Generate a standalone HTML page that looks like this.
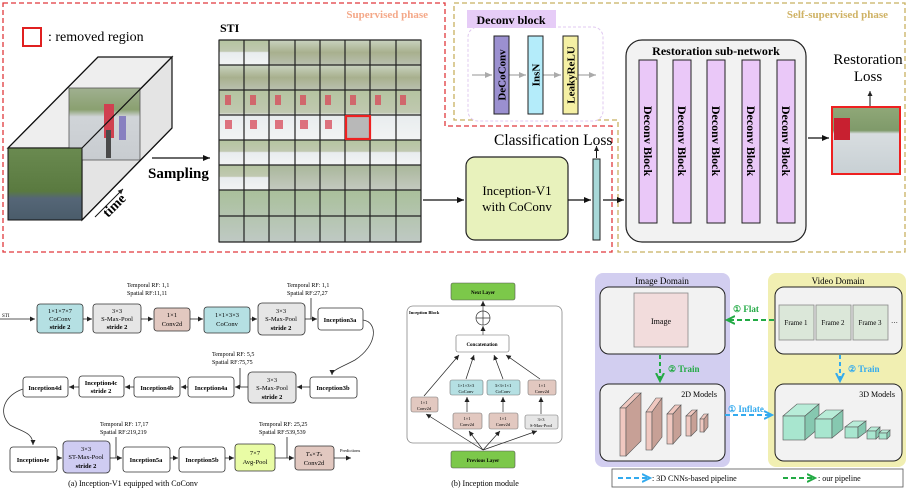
<!DOCTYPE html>
<html><head><meta charset="utf-8"><style>
html,body{margin:0;padding:0;background:#fff;width:909px;height:490px;overflow:hidden}
svg{display:block;font-family:"Liberation Serif",serif}
</style></head><body>
<svg width="909" height="490" viewBox="0 0 909 490" xmlns="http://www.w3.org/2000/svg">
<defs>
<marker id="ah" markerWidth="8" markerHeight="8" refX="7" refY="4" orient="auto" markerUnits="userSpaceOnUse"><path d="M0,1 L7,4 L0,7 z" fill="#111"/></marker>
<marker id="ahs" markerWidth="6" markerHeight="6" refX="5" refY="3" orient="auto" markerUnits="userSpaceOnUse"><path d="M0,0.5 L5,3 L0,5.5 z" fill="#222"/></marker>
<marker id="ahg" markerWidth="8" markerHeight="8" refX="7" refY="4" orient="auto" markerUnits="userSpaceOnUse"><path d="M0,1 L7,4 L0,7 z" fill="#aaa"/></marker>
<marker id="agr" markerWidth="10" markerHeight="10" refX="8" refY="5" orient="auto" markerUnits="userSpaceOnUse"><path d="M0,1 L8,5 L0,9" fill="none" stroke="#22aa44" stroke-width="2"/></marker>
<marker id="abl" markerWidth="10" markerHeight="10" refX="8" refY="5" orient="auto" markerUnits="userSpaceOnUse"><path d="M0,1 L8,5 L0,9" fill="none" stroke="#33aaee" stroke-width="2"/></marker>
<linearGradient id="gA" x1="0" y1="0" x2="0" y2="1"><stop offset="0" stop-color="#c9d3c0"/><stop offset="0.5" stop-color="#a8b08e"/><stop offset="1" stop-color="#b9c0b0"/></linearGradient>
<linearGradient id="gB" x1="0" y1="0" x2="0" y2="1"><stop offset="0" stop-color="#b4c4a0"/><stop offset="0.45" stop-color="#c0c8b0"/><stop offset="0.5" stop-color="#e8ecee"/><stop offset="1" stop-color="#f2f4f4"/></linearGradient>
<linearGradient id="gC" x1="0" y1="0" x2="0" y2="1"><stop offset="0" stop-color="#a9b79a"/><stop offset="1" stop-color="#c4c9c0"/></linearGradient>
<linearGradient id="gD" x1="0" y1="0" x2="0" y2="1"><stop offset="0" stop-color="#a9c09a"/><stop offset="1" stop-color="#bfc9c4"/></linearGradient>
<linearGradient id="gE" x1="0" y1="0" x2="0" y2="1"><stop offset="0" stop-color="#6a8a50"/><stop offset="0.6" stop-color="#5a7a40"/><stop offset="0.7" stop-color="#556677"/><stop offset="1" stop-color="#4a5c6a"/></linearGradient>
<linearGradient id="gF" x1="0" y1="0" x2="0" y2="1"><stop offset="0" stop-color="#a0b090"/><stop offset="0.3" stop-color="#8aa070"/><stop offset="0.4" stop-color="#d0d4d8"/><stop offset="1" stop-color="#c8ccd0"/></linearGradient>
<linearGradient id="gR" x1="0" y1="0" x2="0" y2="1"><stop offset="0" stop-color="#90a878"/><stop offset="0.35" stop-color="#7f9a6a"/><stop offset="0.4" stop-color="#d8dde0"/><stop offset="1" stop-color="#c8d0d4"/></linearGradient>
</defs>

<path d="M3,3 H445 V126 H612 V252 H3 Z" fill="none" stroke="#e0383c" stroke-width="1.3" stroke-dasharray="5,3"/>
<path d="M454,3 H905 V252 H618 V120 H454 Z" fill="none" stroke="#c8b060" stroke-width="1.3" stroke-dasharray="5,3"/>
<text x="428" y="18" font-size="11" font-weight="bold" fill="#f4a888" text-anchor="end">Supervised phase</text>
<text x="888" y="18" font-size="11" font-weight="bold" fill="#cfb264" text-anchor="end">Self-supervised phase</text>

<rect x="23" y="28" width="18" height="18" fill="none" stroke="#e02020" stroke-width="2"/>
<text x="48" y="41" font-size="14">: removed region</text>

<!-- cube -->
<polygon points="8,148 98,57 172,57 82,148" fill="#eeeeee" stroke="#111" stroke-width="1.2"/>
<polygon points="82,148 172,57 172,128 82,220" fill="#e4e4e4" stroke="#111" stroke-width="1.2"/>
<rect x="69" y="88" width="71" height="72" fill="url(#gF)" stroke="#555" stroke-width="0.8"/>
<rect x="104" y="104" width="10" height="34" fill="#d04050"/>
<rect x="119" y="116" width="7" height="24" fill="#8880c0"/>
<rect x="106" y="130" width="5" height="28" fill="#4a4a4a"/>
<line x1="172" y1="57" x2="82" y2="148" stroke="#111" stroke-width="1.2"/>
<line x1="172" y1="128" x2="82" y2="220" stroke="#111" stroke-width="1.2"/>
<line x1="8" y1="148" x2="98" y2="57" stroke="#111" stroke-width="1.2"/>
<rect x="8" y="148" width="74" height="72" fill="url(#gE)" stroke="#111" stroke-width="1"/>
<line x1="95" y1="217" x2="123" y2="189" stroke="#111" stroke-width="1" marker-end="url(#ahs)"/>
<text x="108" y="218" font-size="14" font-weight="bold" transform="rotate(-45 108 218)">time</text>
<line x1="152" y1="158" x2="210" y2="158" stroke="#111" stroke-width="1.2" marker-end="url(#ah)"/>
<text x="148" y="178" font-size="15" font-weight="bold">Sampling</text>

<text x="220" y="32" font-size="12" font-weight="bold">STI</text>
<rect x="219" y="40" width="202" height="202" fill="#c8ccc4" stroke="#222"/>
<g>
<rect x="219" y="40" width="50" height="25" fill="url(#gB)"/>
<rect x="269" y="40" width="152" height="25" fill="url(#gA)"/>
<rect x="219" y="65" width="202" height="25" fill="url(#gA)"/>
<rect x="219" y="90" width="202" height="50" fill="url(#gB)"/>
<rect x="219" y="140" width="202" height="25" fill="url(#gB)"/>
<rect x="219" y="165" width="50" height="25" fill="url(#gB)"/>
<rect x="269" y="165" width="152" height="25" fill="url(#gC)"/>
<rect x="219" y="190" width="202" height="52" fill="url(#gD)"/>
</g>
<g fill="#d84858" opacity="0.75">
<rect x="225" y="95" width="6" height="10"/><rect x="250" y="95" width="6" height="10"/><rect x="275" y="95" width="6" height="10"/><rect x="300" y="95" width="6" height="10"/><rect x="325" y="95" width="6" height="10"/><rect x="350" y="95" width="6" height="10"/><rect x="375" y="95" width="6" height="10"/><rect x="400" y="95" width="6" height="10"/>
<rect x="225" y="120" width="7" height="9"/><rect x="250" y="120" width="7" height="9"/><rect x="275" y="120" width="8" height="9"/><rect x="300" y="120" width="8" height="9"/><rect x="325" y="120" width="7" height="9"/>
</g>
<g stroke="#222" stroke-width="1.2" fill="none">
<path d="M219,40 V242 M244,40 V242 M269,40 V242 M295,40 V242 M320,40 V242 M345,40 V242 M370,40 V242 M396,40 V242 M421,40 V242"/>
<path d="M219,40 H421 M219,65 H421 M219,90 H421 M219,115 H421 M219,140 H421 M219,165 H421 M219,190 H421 M219,216 H421 M219,242 H421"/>
</g>
<rect x="346" y="116" width="24" height="23" fill="#b8b8b8" stroke="#ee2020" stroke-width="2.2"/>

<line x1="423" y1="200" x2="464" y2="200" stroke="#111" stroke-width="1.2" marker-end="url(#ah)"/>
<rect x="466" y="157" width="102" height="83" rx="9" fill="#e8f2bc" stroke="#222" stroke-width="1.2"/>
<text x="517" y="195" font-size="13" text-anchor="middle">Inception-V1</text>
<text x="517" y="211" font-size="13" text-anchor="middle">with CoConv</text>
<line x1="568" y1="200" x2="591" y2="200" stroke="#111" stroke-width="1.2" marker-end="url(#ah)"/>
<rect x="593" y="159" width="7" height="81" fill="#a8d8d8" stroke="#222" stroke-width="1"/>
<line x1="596.5" y1="158" x2="596.5" y2="146" stroke="#111" stroke-width="1" marker-end="url(#ahs)"/>
<text x="494" y="145" font-size="15.5">Classification Loss</text>
<line x1="603" y1="200" x2="624" y2="200" stroke="#111" stroke-width="1.2" marker-end="url(#ah)"/>

<rect x="468" y="27" width="135" height="94" rx="10" fill="#fff" stroke="#e0c8f0" stroke-width="1" stroke-dasharray="3,2"/>
<rect x="467" y="10" width="89" height="18" fill="#e6ccf7"/>
<text x="511" y="24" font-size="12" font-weight="bold" text-anchor="middle">Deconv block</text>
<line x1="472" y1="75" x2="492" y2="75" stroke="#aaa" stroke-width="1.2" marker-end="url(#ahg)"/>
<line x1="509" y1="75" x2="526" y2="75" stroke="#aaa" stroke-width="1.2" marker-end="url(#ahg)"/>
<line x1="543" y1="75" x2="561" y2="75" stroke="#aaa" stroke-width="1.2" marker-end="url(#ahg)"/>
<line x1="578" y1="75" x2="596" y2="75" stroke="#aaa" stroke-width="1.2" marker-end="url(#ahg)"/>
<rect x="494" y="36" width="15" height="78" fill="#9b90d0" stroke="#222"/>
<rect x="528" y="36" width="15" height="78" fill="#b4ecfa" stroke="#222"/>
<rect x="563" y="36" width="15" height="78" fill="#f5f0a4" stroke="#222"/>
<g font-size="11" font-weight="bold" text-anchor="middle">
<text transform="translate(505.5 75) rotate(-90)">DeCoConv</text>
<text transform="translate(539.5 75) rotate(-90)">InsN</text>
<text transform="translate(574.5 75) rotate(-90)">LeakyReLU</text>
</g>

<rect x="626" y="40" width="180" height="202" rx="16" fill="#f2f2f2" stroke="#222" stroke-width="1.2"/>
<text x="716" y="55" font-size="12" font-weight="bold" text-anchor="middle">Restoration sub-network</text>
<g fill="#eac8f8" stroke="#222" stroke-width="1">
<rect x="639" y="60" width="18" height="163"/><rect x="673" y="60" width="18" height="163"/><rect x="707" y="60" width="18" height="163"/><rect x="742" y="60" width="18" height="163"/><rect x="777" y="60" width="18" height="163"/>
</g>
<g font-size="12" font-weight="bold" text-anchor="middle">
<text transform="translate(644 141) rotate(90)">Deconv Block</text>
<text transform="translate(678 141) rotate(90)">Deconv Block</text>
<text transform="translate(712 141) rotate(90)">Deconv Block</text>
<text transform="translate(747 141) rotate(90)">Deconv Block</text>
<text transform="translate(782 141) rotate(90)">Deconv Block</text>
</g>
<line x1="808" y1="138" x2="829" y2="138" stroke="#111" stroke-width="1.2" marker-end="url(#ah)"/>
<rect x="832" y="107" width="68" height="67" fill="url(#gR)" stroke="#ee2020" stroke-width="2"/>
<rect x="834" y="118" width="16" height="22" fill="#c82030"/>
<line x1="870" y1="106" x2="870" y2="91" stroke="#111" stroke-width="1" marker-end="url(#ahs)"/>
<text x="868" y="64" font-size="15" text-anchor="middle">Restoration</text>
<text x="868" y="81" font-size="15" text-anchor="middle">Loss</text>

<!-- (a) -->
<g font-size="6.5" text-anchor="middle">
<line x1="0" y1="319" x2="35" y2="319" stroke="#222" stroke-width="0.8" marker-end="url(#ahs)"/>
<text x="2" y="317" text-anchor="start" font-size="5">STI</text>
<rect x="37" y="304" width="46" height="29" rx="3" fill="#b5e0e3" stroke="#333" stroke-width="0.8"/>
<text x="60" y="313">1×1×7×7</text><text x="60" y="321">CoConv</text><text x="60" y="329" font-weight="bold">stride 2</text>
<line x1="83" y1="319" x2="92" y2="319" stroke="#222" stroke-width="0.8" marker-end="url(#ahs)"/>
<rect x="93" y="304" width="48" height="29" rx="3" fill="#e6e6e6" stroke="#333" stroke-width="0.8"/>
<text x="117" y="313">3×3</text><text x="117" y="321">S-Max-Pool</text><text x="117" y="329" font-weight="bold">stride 2</text>
<line x1="141" y1="319" x2="153" y2="319" stroke="#222" stroke-width="0.8" marker-end="url(#ahs)"/>
<rect x="154" y="308" width="36" height="23" rx="3" fill="#e2c8c0" stroke="#333" stroke-width="0.8"/>
<text x="172" y="317">1×1</text><text x="172" y="326">Conv2d</text>
<line x1="190" y1="319" x2="203" y2="319" stroke="#222" stroke-width="0.8" marker-end="url(#ahs)"/>
<rect x="204" y="307" width="46" height="26" rx="3" fill="#b5e0e3" stroke="#333" stroke-width="0.8"/>
<text x="227" y="317">1×1×3×3</text><text x="227" y="326">CoConv</text>
<line x1="250" y1="319" x2="257" y2="319" stroke="#222" stroke-width="0.8" marker-end="url(#ahs)"/>
<rect x="258" y="303" width="47" height="32" rx="4" fill="#e6e6e6" stroke="#333" stroke-width="0.8"/>
<text x="281" y="313">3×3</text><text x="281" y="321">S-Max-Pool</text><text x="281" y="330" font-weight="bold">stride 2</text>
<line x1="305" y1="319" x2="317" y2="319" stroke="#222" stroke-width="0.8" marker-end="url(#ahs)"/>
<line x1="311" y1="298" x2="311" y2="319" stroke="#222" stroke-width="0.8"/>
<rect x="318" y="308" width="45" height="22" rx="3" fill="#fff" stroke="#333" stroke-width="0.8"/>
<text x="340" y="322" font-weight="bold">Inception3a</text>
<text x="127" y="287" text-anchor="start" font-size="6">Temporal RF: 1,1</text><text x="127" y="295" text-anchor="start" font-size="6">Spatial RF:11,11</text>
<text x="287" y="287" text-anchor="start" font-size="6">Temporal RF: 1,1</text><text x="287" y="295" text-anchor="start" font-size="6">Spatial RF:27,27</text>
<path d="M363,320 C378,322 378,345 355,360 C340,368 332,370 332,375" fill="none" stroke="#333" stroke-width="0.8" marker-end="url(#ahs)"/>

<rect x="310" y="377" width="47" height="21" rx="3" fill="#fff" stroke="#333" stroke-width="0.8"/>
<text x="333" y="390" font-weight="bold">Inception3b</text>
<line x1="310" y1="387" x2="297" y2="387" stroke="#222" stroke-width="0.8" marker-end="url(#ahs)"/>
<rect x="248" y="372" width="48" height="31" rx="4" fill="#e6e6e6" stroke="#333" stroke-width="0.8"/>
<text x="272" y="382">3×3</text><text x="272" y="390">S-Max-Pool</text><text x="272" y="399" font-weight="bold">stride 2</text>
<line x1="248" y1="387" x2="235" y2="387" stroke="#222" stroke-width="0.8" marker-end="url(#ahs)"/>
<line x1="240" y1="368" x2="240" y2="387" stroke="#222" stroke-width="0.8"/>
<text x="212" y="356" text-anchor="start" font-size="6">Temporal RF: 5,5</text><text x="212" y="364" text-anchor="start" font-size="6">Spatial RF:75,75</text>
<rect x="188" y="377" width="46" height="20" rx="3" fill="#fff" stroke="#333" stroke-width="0.8"/>
<text x="211" y="390" font-weight="bold">Inception4a</text>
<line x1="188" y1="387" x2="181" y2="387" stroke="#222" stroke-width="0.8" marker-end="url(#ahs)"/>
<rect x="134" y="377" width="46" height="20" rx="3" fill="#fff" stroke="#333" stroke-width="0.8"/>
<text x="157" y="390" font-weight="bold">Inception4b</text>
<line x1="134" y1="387" x2="125" y2="387" stroke="#222" stroke-width="0.8" marker-end="url(#ahs)"/>
<rect x="79" y="376" width="45" height="21" rx="3" fill="#fff" stroke="#333" stroke-width="0.8"/>
<text x="101" y="385" font-weight="bold">Inception4c</text><text x="101" y="393" font-weight="bold">stride 2</text>
<line x1="79" y1="387" x2="69" y2="387" stroke="#222" stroke-width="0.8" marker-end="url(#ahs)"/>
<rect x="23" y="377" width="45" height="20" rx="3" fill="#fff" stroke="#333" stroke-width="0.8"/>
<text x="45" y="390" font-weight="bold">Inception4d</text>
<path d="M23,389 C5,395 -3,412 10,425 C22,432 33,432 33,445" fill="none" stroke="#333" stroke-width="0.8" marker-end="url(#ahs)"/>

<rect x="10" y="447" width="47" height="25" rx="3" fill="#fff" stroke="#333" stroke-width="0.8"/>
<text x="33" y="462" font-weight="bold">Inception4e</text>
<line x1="57" y1="458" x2="62" y2="458" stroke="#222" stroke-width="0.8" marker-end="url(#ahs)"/>
<rect x="63" y="441" width="47" height="32" rx="4" fill="#cfccf2" stroke="#333" stroke-width="0.8"/>
<text x="86" y="451">3×3</text><text x="86" y="459">ST-Max-Pool</text><text x="86" y="468" font-weight="bold">stride 2</text>
<line x1="110" y1="458" x2="122" y2="458" stroke="#222" stroke-width="0.8" marker-end="url(#ahs)"/>
<line x1="116" y1="437" x2="116" y2="458" stroke="#222" stroke-width="0.8"/>
<text x="100" y="426" text-anchor="start" font-size="6">Temporal RF: 17,17</text><text x="100" y="434" text-anchor="start" font-size="6">Spatial RF:219,219</text>
<rect x="123" y="447" width="47" height="25" rx="3" fill="#fff" stroke="#333" stroke-width="0.8"/>
<text x="146" y="462" font-weight="bold">Inception5a</text>
<line x1="170" y1="458" x2="178" y2="458" stroke="#222" stroke-width="0.8" marker-end="url(#ahs)"/>
<rect x="179" y="447" width="46" height="25" rx="3" fill="#fff" stroke="#333" stroke-width="0.8"/>
<text x="202" y="462" font-weight="bold">Inception5b</text>
<line x1="225" y1="458" x2="234" y2="458" stroke="#222" stroke-width="0.8" marker-end="url(#ahs)"/>
<rect x="235" y="444" width="40" height="27" rx="3" fill="#e9fca5" stroke="#333" stroke-width="0.8"/>
<text x="255" y="455">7×7</text><text x="255" y="464">Avg-Pool</text>
<line x1="275" y1="458" x2="294" y2="458" stroke="#222" stroke-width="0.8" marker-end="url(#ahs)"/>
<line x1="287" y1="437" x2="287" y2="458" stroke="#222" stroke-width="0.8"/>
<text x="259" y="426" text-anchor="start" font-size="6">Temporal RF: 25,25</text><text x="259" y="434" text-anchor="start" font-size="6">Spatial RF:539,539</text>
<rect x="295" y="446" width="39" height="24" rx="3" fill="#e2c8c0" stroke="#333" stroke-width="0.8"/>
<text x="314" y="456" font-style="italic">Tₛ×Tₛ</text><text x="314" y="465">Conv2d</text>
<line x1="334" y1="458" x2="351" y2="458" stroke="#222" stroke-width="0.8" marker-end="url(#ahs)"/>
<text x="340" y="452" text-anchor="start" font-size="4.5">Predictions</text>
</g>
<text x="133" y="486" font-size="8" text-anchor="middle">(a)  Inception-V1 equipped with CoConv</text>

<!-- (b) -->
<g font-size="4.5" text-anchor="middle">
<rect x="407" y="306" width="155" height="137" rx="6" fill="#fff" stroke="#888" stroke-width="0.8"/>
<text x="409" y="314" text-anchor="start" font-weight="bold">Inception Block</text>
<rect x="451" y="283" width="64" height="17" rx="2" fill="#7cc84a" stroke="#555" stroke-width="0.6"/>
<text x="483" y="294" font-weight="bold" font-size="5">Next Layer</text>
<circle cx="483" cy="318" r="7" fill="#fff" stroke="#333" stroke-width="0.7"/>
<path d="M476,318 H490 M483,311 V325" stroke="#333" stroke-width="0.7"/>
<line x1="483" y1="311" x2="483" y2="301" stroke="#222" stroke-width="0.6" marker-end="url(#ahs)"/>
<line x1="483" y1="335" x2="483" y2="326" stroke="#222" stroke-width="0.6" marker-end="url(#ahs)"/>
<rect x="456" y="335" width="53" height="17" rx="2" fill="#fff" stroke="#666" stroke-width="0.6"/>
<text x="482" y="346" font-weight="bold" font-size="5">Concatenation</text>
<rect x="411" y="397" width="27" height="15" rx="2" fill="#e2c8c0" stroke="#777" stroke-width="0.6"/>
<text x="424" y="404">1×1</text><text x="424" y="410">Conv2d</text>
<rect x="450" y="380" width="33" height="15" rx="2" fill="#b5e0e3" stroke="#777" stroke-width="0.6"/>
<text x="466" y="387">1×1×3×3</text><text x="466" y="393">CoConv</text>
<rect x="487" y="380" width="33" height="15" rx="2" fill="#b5e0e3" stroke="#777" stroke-width="0.6"/>
<text x="503" y="387">3×3×1×1</text><text x="503" y="393">CoConv</text>
<rect x="528" y="380" width="28" height="15" rx="2" fill="#e2c8c0" stroke="#777" stroke-width="0.6"/>
<text x="542" y="387">1×1</text><text x="542" y="393">Conv2d</text>
<rect x="453" y="413" width="29" height="16" rx="2" fill="#e2c8c0" stroke="#777" stroke-width="0.6"/>
<text x="467" y="420">1×1</text><text x="467" y="426">Conv2d</text>
<rect x="489" y="413" width="29" height="16" rx="2" fill="#e2c8c0" stroke="#777" stroke-width="0.6"/>
<text x="503" y="420">1×1</text><text x="503" y="426">Conv2d</text>
<rect x="525" y="415" width="33" height="14" rx="2" fill="#e6e6e6" stroke="#777" stroke-width="0.6"/>
<text x="541" y="421">3×3</text><text x="541" y="427">S-Max-Pool</text>
<rect x="451" y="451" width="64" height="17" rx="2" fill="#7cc84a" stroke="#555" stroke-width="0.6"/>
<text x="483" y="462" font-weight="bold" font-size="5">Previous Layer</text>
<g stroke="#222" stroke-width="0.7" fill="none" marker-end="url(#ahs)">
<line x1="424" y1="396" x2="459" y2="355"/>
<line x1="466" y1="379" x2="474" y2="355"/>
<line x1="503" y1="379" x2="494" y2="355"/>
<line x1="540" y1="379" x2="506" y2="355"/>
<line x1="467" y1="412" x2="467" y2="397"/>
<line x1="503" y1="412" x2="503" y2="397"/>
<line x1="541" y1="414" x2="541" y2="397"/>
<line x1="483" y1="450" x2="426" y2="414"/>
<line x1="483" y1="450" x2="469" y2="431"/>
<line x1="483" y1="450" x2="500" y2="431"/>
<line x1="483" y1="450" x2="537" y2="431"/>
</g>
</g>
<text x="485" y="486" font-size="8" text-anchor="middle">(b)  Inception module</text>

<!-- (c) -->
<rect x="595" y="273" width="135" height="194" rx="8" fill="#d2cef0"/>
<rect x="768" y="273" width="138" height="194" rx="8" fill="#f1efb2"/>
<text x="662" y="284" font-size="9" text-anchor="middle">Image Domain</text>
<text x="838" y="284" font-size="9" text-anchor="middle">Video Domain</text>
<rect x="600" y="287" width="125" height="67" rx="9" fill="#f2f2f2" stroke="#222" stroke-width="1"/>
<rect x="634" y="293" width="54" height="54" fill="#f2dcdc" stroke="#888" stroke-width="0.8"/>
<text x="661" y="324" font-size="8" text-anchor="middle">Image</text>
<rect x="775" y="287" width="127" height="67" rx="9" fill="#f2f2f2" stroke="#222" stroke-width="1"/>
<g fill="#dbe7d9" stroke="#888" stroke-width="0.8">
<rect x="779" y="305" width="35" height="35"/><rect x="816" y="305" width="35" height="35"/><rect x="853" y="305" width="35" height="35"/>
</g>
<g font-size="7" text-anchor="middle"><text x="796" y="325">Frame 1</text><text x="833" y="325">Frame 2</text><text x="870" y="325">Frame 3</text></g>
<text x="891" y="325" font-size="7">···</text>
<rect x="600" y="384" width="125" height="77" rx="9" fill="#f2f2f2" stroke="#222" stroke-width="1"/>
<text x="717" y="397" font-size="8" text-anchor="end">2D Models</text>
<rect x="775" y="384" width="127" height="77" rx="9" fill="#f2f2f2" stroke="#222" stroke-width="1"/>
<text x="895" y="397" font-size="8" text-anchor="end">3D Models</text>
<g stroke="#555" stroke-width="0.6">
<polygon points="620,408 635,393 641,393 626,408" fill="#f0c8c0"/><rect x="620" y="408" width="6" height="48" fill="#f0c8c0"/><polygon points="626,408 641,393 641,441 626,456" fill="#c7a096"/>
<polygon points="646,412 656,398 662,398 652,412" fill="#f0c8c0"/><rect x="646" y="412" width="6" height="38" fill="#f0c8c0"/><polygon points="652,412 662,398 662,437 652,450" fill="#c7a096"/>
<polygon points="667,414 675,405 681,405 673,414" fill="#f0c8c0"/><rect x="667" y="414" width="6" height="30" fill="#f0c8c0"/><polygon points="673,414 681,405 681,435 673,444" fill="#c7a096"/>
<polygon points="686,416 692,410 697,410 691,416" fill="#f0c8c0"/><rect x="686" y="416" width="5" height="20" fill="#f0c8c0"/><polygon points="691,416 697,410 697,430 691,436" fill="#c7a096"/>
<polygon points="700,419 704,414 708,414 704,419" fill="#f0c8c0"/><rect x="700" y="419" width="4" height="13" fill="#f0c8c0"/><polygon points="704,419 708,414 708,427 704,432" fill="#c7a096"/>
</g>
<g stroke="#555" stroke-width="0.6">
<polygon points="783,416 797,404 819,404 805,416" fill="#b8ecd8"/><rect x="783" y="416" width="22" height="24" fill="#a8e6cf"/><polygon points="805,416 819,404 819,428 805,440" fill="#86c8b0"/>
<polygon points="815,419 826,410 843,410 832,419" fill="#b8ecd8"/><rect x="815" y="419" width="17" height="19" fill="#a8e6cf"/><polygon points="832,419 843,410 843,429 832,438" fill="#86c8b0"/>
<polygon points="845,427 853,421 866,421 858,427" fill="#b8ecd8"/><rect x="845" y="427" width="13" height="11" fill="#a8e6cf"/><polygon points="858,427 866,421 866,432 858,438" fill="#86c8b0"/>
<polygon points="867,431 871,427 880,427 876,431" fill="#b8ecd8"/><rect x="867" y="431" width="9" height="8" fill="#a8e6cf"/><polygon points="876,431 880,427 880,435 876,439" fill="#86c8b0"/>
<polygon points="879,433 882,430 890,430 887,433" fill="#b8ecd8"/><rect x="879" y="433" width="8" height="6" fill="#a8e6cf"/><polygon points="887,433 890,430 890,436 887,439" fill="#86c8b0"/>
</g>
<line x1="774" y1="320" x2="727" y2="320" stroke="#22aa44" stroke-width="2" stroke-dasharray="5,3" marker-end="url(#agr)"/>
<text x="733" y="312" font-size="9" fill="#22aa44" font-weight="bold">① Flat</text>
<line x1="660" y1="355" x2="660" y2="381" stroke="#22aa44" stroke-width="2" stroke-dasharray="4,3" marker-end="url(#agr)"/>
<text x="668" y="372" font-size="9" fill="#22aa44" font-weight="bold">②  Train</text>
<line x1="840" y1="355" x2="840" y2="381" stroke="#33aaee" stroke-width="2" stroke-dasharray="4,3" marker-end="url(#abl)"/>
<text x="848" y="372" font-size="9" fill="#33aaee" font-weight="bold">②  Train</text>
<line x1="725" y1="415" x2="772" y2="415" stroke="#33aaee" stroke-width="2" stroke-dasharray="5,3" marker-end="url(#abl)"/>
<text x="728" y="412" font-size="9" fill="#33aaee" font-weight="bold">① Inflate</text>
<rect x="612" y="469" width="291" height="18" fill="#fff" stroke="#555" stroke-width="0.8"/>
<line x1="618" y1="478" x2="650" y2="478" stroke="#33aaee" stroke-width="2" stroke-dasharray="5,3" marker-end="url(#abl)"/>
<text x="652" y="481" font-size="8">: 3D CNNs-based pipeline</text>
<line x1="783" y1="478" x2="815" y2="478" stroke="#22aa44" stroke-width="2" stroke-dasharray="5,3" marker-end="url(#agr)"/>
<text x="818" y="481" font-size="8">: our pipeline</text>
</svg>
</body></html>
